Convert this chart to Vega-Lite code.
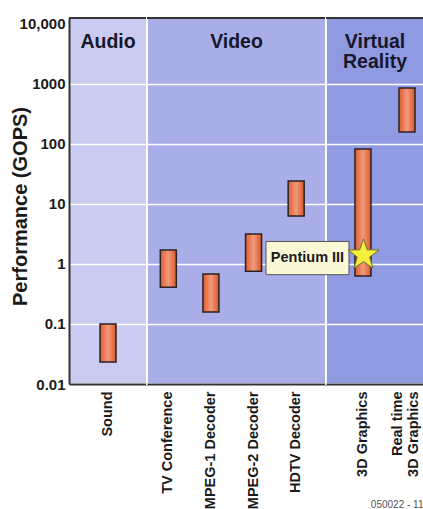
{
  "$schema": "https://vega.github.io/schema/vega-lite/v6.json",
  "padding": {"left": 9, "top": 15, "right": 0, "bottom": 0},
  "bounds": "flush",
  "spacing": 0,
  "config": {"font": "Liberation Sans"},
  "resolve": {"scale": {"x": "independent", "y": "independent"}},
  "datasets": {
    "apps": [
      {"name": "Sound", "zone": "Audio", "low": 0.0233, "high": 0.1},
      {"name": "TV Conference", "zone": "Video", "low": 0.41, "high": 1.71},
      {"name": "MPEG-1 Decoder", "zone": "Video", "low": 0.158, "high": 0.68},
      {"name": "MPEG-2 Decoder", "zone": "Video", "low": 0.76, "high": 3.16},
      {"name": "HDTV Decoder", "zone": "Video", "low": 6.3, "high": 24.2},
      {"name": "3D Graphics", "zone": "Virtual Reality", "low": 0.63, "high": 82.5},
      {"name": "Real time 3D Graphics", "zone": "Virtual Reality", "low": 158, "high": 857}
    ],
    "zones": [
      {"zone": "Audio", "label": "Audio"},
      {"zone": "Video", "label": "Video"},
      {"zone": "Virtual Reality", "label": "Virtual\nReality"}
    ],
    "markers": [
      {"name": "3D Graphics", "label": "Pentium III", "perf": 1.33}
    ],
    "edges": [{"edge": "top"}]
  },
  "hconcat": [
    {
      "width": 78,
      "height": 366,
      "view": {"fill": "#c9cbf0", "stroke": "#ffffff", "strokeWidth": 2},
      "layer": [
        {
          "data": {"name": "apps"},
          "transform": [{"filter": "datum.zone == 'Audio'"}],
          "mark": {"type": "bar", "width": 16, "stroke": "#2a2222", "strokeWidth": 1.5,
            "fill": {"gradient": "linear", "x1": 0, "y1": 0, "x2": 1, "y2": 0,
              "stops": [{"offset": 0, "color": "#de5c2e"}, {"offset": 0.5, "color": "#f29a7c"}, {"offset": 1, "color": "#da582b"}]}},
          "encoding": {
            "x": {"field": "name", "type": "nominal", "sort": null,
              "axis": {"labelAngle": 270, "labelAlign": "right", "labelBaseline": "middle", "labelFontSize": 14.5, "labelFontWeight": "bold", "labelColor": "#1a1a1a", "labelPadding": 7, "ticks": false, "domainColor": "#333333", "domainWidth": 2, "title": null}},
            "y": {"field": "low", "type": "quantitative",
              "scale": {"type": "log", "domain": [0.01, 12589], "nice": false},
              "axis": {"values": [0.01, 0.1, 1, 10, 100, 1000, 10000],
                "labelExpr": "datum.value == 10000 ? '10,000' : toString(datum.value)",
                "labelFontSize": 15, "labelFontWeight": "bold", "labelColor": "#1a1a1a", "labelPadding": 4, "labelFlush": false, "labelOverlap": false,
                "ticks": false, "domainColor": "#333333", "domainWidth": 2,
                "grid": true, "gridColor": "#ffffff", "gridWidth": 1.5,
                "gridOpacity": {"condition": {"test": "datum.value == 10000", "value": 0}, "value": 1},
                "title": "Performance (GOPS)", "titleFontSize": 20, "titleFontWeight": "bold", "titleColor": "#1a1a1a",
                "titleX": -49, "titleY": 188, "titleAngle": 270, "titleAlign": "center", "titleBaseline": "middle"}},
            "y2": {"field": "high"}
          }
        },
        {
          "data": {"name": "zones"},
          "transform": [{"filter": "datum.zone == 'Audio'"}],
          "mark": {"type": "text", "fontSize": 19.5, "fontWeight": "bold", "baseline": "top", "align": "center", "color": "#17172c", "lineBreak": "\n", "lineHeight": 20},
          "encoding": {"y": {"datum": 7200, "type": "quantitative"}, "text": {"field": "label"}}
        },
        {
          "data": {"name": "edges"},
          "mark": {"type": "rule", "color": "#333333", "strokeWidth": 2},
          "encoding": {"y": {"datum": 12589, "type": "quantitative"}}
        }
      ]
    },
    {
      "width": 179,
      "height": 366,
      "view": {"fill": "#a9aee8", "stroke": "#ffffff", "strokeWidth": 2},
      "layer": [
        {
          "data": {"name": "apps"},
          "transform": [{"filter": "datum.zone == 'Video'"}],
          "mark": {"type": "bar", "width": 16, "stroke": "#2a2222", "strokeWidth": 1.5,
            "fill": {"gradient": "linear", "x1": 0, "y1": 0, "x2": 1, "y2": 0,
              "stops": [{"offset": 0, "color": "#de5c2e"}, {"offset": 0.5, "color": "#f29a7c"}, {"offset": 1, "color": "#da582b"}]}},
          "encoding": {
            "x": {"field": "name", "type": "nominal", "sort": null,
              "scale": {"domain": ["TV Conference", "MPEG-1 Decoder", "MPEG-2 Decoder", "HDTV Decoder"], "paddingInner": 0, "paddingOuter": 0.1, "align": 0},
              "axis": {"labelAngle": 270, "labelAlign": "right", "labelBaseline": "middle", "labelFontSize": 14.5, "labelFontWeight": "bold", "labelColor": "#1a1a1a", "labelPadding": 7, "ticks": false, "domainColor": "#333333", "domainWidth": 2, "title": null}},
            "y": {"field": "low", "type": "quantitative",
              "scale": {"type": "log", "domain": [0.01, 12589], "nice": false},
              "axis": {"values": [0.01, 0.1, 1, 10, 100, 1000], "labels": false, "ticks": false, "domain": false, "title": null,
                "grid": true, "gridColor": "#ffffff", "gridWidth": 1.5}},
            "y2": {"field": "high"}
          }
        },
        {
          "data": {"name": "zones"},
          "transform": [{"filter": "datum.zone == 'Video'"}],
          "mark": {"type": "text", "fontSize": 19.5, "fontWeight": "bold", "baseline": "top", "align": "center", "color": "#17172c", "lineBreak": "\n", "lineHeight": 20},
          "encoding": {"y": {"datum": 7200, "type": "quantitative"}, "text": {"field": "label"}}
        },
        {
          "data": {"name": "edges"},
          "mark": {"type": "rule", "color": "#333333", "strokeWidth": 2},
          "encoding": {"y": {"datum": 12589, "type": "quantitative"}}
        }
      ]
    },
    {
      "width": 98,
      "height": 366,
      "view": {"fill": "#8f9ae1", "stroke": "#ffffff", "strokeWidth": 2},
      "layer": [
        {
          "data": {"name": "apps"},
          "transform": [{"filter": "datum.zone == 'Virtual Reality'"}],
          "mark": {"type": "bar", "width": 16, "stroke": "#2a2222", "strokeWidth": 1.5,
            "fill": {"gradient": "linear", "x1": 0, "y1": 0, "x2": 1, "y2": 0,
              "stops": [{"offset": 0, "color": "#de5c2e"}, {"offset": 0.5, "color": "#f29a7c"}, {"offset": 1, "color": "#da582b"}]}},
          "encoding": {
            "x": {"field": "name", "type": "nominal", "sort": null,
              "scale": {"domain": ["3D Graphics", "Real time 3D Graphics"], "paddingInner": 0.227, "paddingOuter": 0.227, "align": 1},
              "axis": {"labelAngle": 270, "labelAlign": "right", "labelBaseline": "middle", "labelFontSize": 14.5, "labelFontWeight": "bold", "labelColor": "#1a1a1a", "labelPadding": 7, "ticks": false, "domainColor": "#333333", "domainWidth": 2,
                "labelLineHeight": 16,
                "labelOffset": {"condition": {"test": "datum.value == 'Real time 3D Graphics'", "value": -9}, "value": 0},
                "labelExpr": "datum.value == 'Real time 3D Graphics' ? ['Real time', '3D Graphics'] : datum.value",
                "title": "050022 - 11", "titleFontSize": 10, "titleFontWeight": "normal", "titleColor": "#555555",
                "titleX": 97, "titleY": 120, "titleAlign": "right", "titleBaseline": "middle", "titleAnchor": "end"}},
            "y": {"field": "low", "type": "quantitative",
              "scale": {"type": "log", "domain": [0.01, 12589], "nice": false},
              "axis": {"values": [0.01, 0.1, 1, 10, 100, 1000], "labels": false, "ticks": false, "domain": false, "title": null,
                "grid": true, "gridColor": "#ffffff", "gridWidth": 1.5}},
            "y2": {"field": "high"}
          }
        },
        {
          "data": {"name": "zones"},
          "transform": [{"filter": "datum.zone == 'Virtual Reality'"}],
          "mark": {"type": "text", "fontSize": 19.5, "fontWeight": "bold", "baseline": "top", "align": "center", "color": "#17172c", "lineBreak": "\n", "lineHeight": 20},
          "encoding": {"y": {"datum": 7200, "type": "quantitative"}, "text": {"field": "label"}}
        },
        {
          "data": {"name": "edges"},
          "mark": {"type": "rule", "color": "#333333", "strokeWidth": 2},
          "encoding": {"y": {"datum": 12589, "type": "quantitative"}}
        },
        {
          "data": {"name": "markers"},
          "mark": {"type": "point", "shape": "M-1,-0.4L1,-0.4L1,0.4L-1,0.4Z", "size": 6889, "filled": true, "fill": "#fbf8d8", "stroke": "#555555", "strokeWidth": 1, "opacity": 1, "xOffset": -55.5, "yOffset": 1.5},
          "encoding": {"x": {"field": "name", "type": "nominal"}, "y": {"field": "perf", "type": "quantitative"}}
        },
        {
          "data": {"name": "markers"},
          "mark": {"type": "text", "fontSize": 14.5, "fontWeight": "bold", "color": "#1a1a1a", "align": "center", "baseline": "middle", "xOffset": -55.5, "yOffset": 1.5},
          "encoding": {"x": {"field": "name", "type": "nominal"}, "y": {"field": "perf", "type": "quantitative"}, "text": {"field": "label"}}
        },
        {
          "data": {"name": "markers"},
          "mark": {"type": "point", "shape": "M0,-1L0.235,-0.324L0.951,-0.309L0.38,0.124L0.588,0.809L0,0.4L-0.588,0.809L-0.38,0.124L-0.951,-0.309L-0.235,-0.324Z", "size": 1062, "filled": true, "fill": "#f4ee3c", "stroke": "#6e6e28", "strokeWidth": 1, "opacity": 1, "xOffset": 0.5, "yOffset": -1.5},
          "encoding": {"x": {"field": "name", "type": "nominal"}, "y": {"field": "perf", "type": "quantitative"}}
        }
      ]
    }
  ]
}
